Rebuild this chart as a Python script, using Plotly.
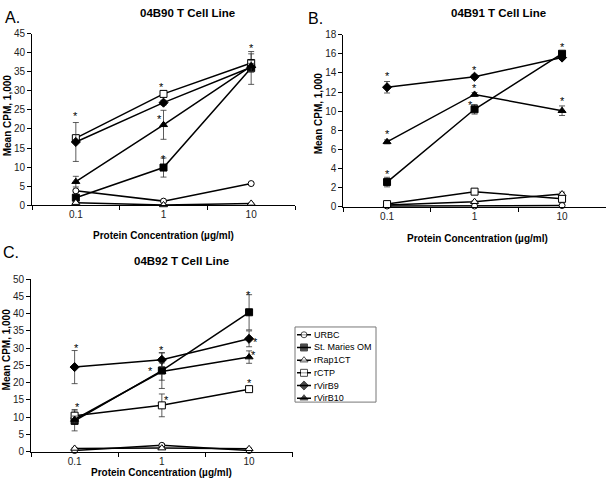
import plotly.graph_objects as go

# ---------------- data ----------------
CONC = ["0.1", "1", "10"]
SERIES = ["URBC", "St. Maries OM", "rRap1CT", "rCTP", "rVirB9", "rVirB10"]

# Panel A: 04B90
A_URBC = [3.8, 1.1, 5.7]
A_STM = [2.0, 9.9, 36.0]
A_RAP = [0.7, 0.1, 0.5]
A_CTP = [17.6, 29.2, 37.3]
A_B9 = [16.6, 26.9, 36.2]
A_B10 = [6.2, 21.1, 36.5]
A_URBC_E = [0.3, 0.2, 0.3]
A_STM_E = [0.6, 2.5, 4.3]
A_RAP_E = [0.1, 0.1, 0.1]
A_CTP_E = [0.5, 0.7, 2.4]
A_B9_E = [5.1, 0.6, 1.0]
A_B10_E = [1.4, 3.8, 1.5]

# Panel B: 04B91
B_URBC = [0.1, 0.1, 0.15]
B_STM = [2.6, 10.2, 16.0]
B_RAP = [0.2, 0.55, 1.35]
B_CTP = [0.3, 1.6, 0.85]
B_B9 = [12.5, 13.6, 15.6]
B_B10 = [6.8, 11.75, 10.05]
B_URBC_E = [0.05, 0.05, 0.05]
B_STM_E = [0.5, 0.5, 0.2]
B_RAP_E = [0.05, 0.1, 0.2]
B_CTP_E = [0.1, 0.1, 0.3]
B_B9_E = [0.6, 0.2, 0.2]
B_B10_E = [0.2, 0.2, 0.5]

# Panel C: 04B92
C_URBC = [0.3, 1.8, 0.3]
C_STM = [8.9, 23.5, 40.4]
C_RAP = [0.9, 1.0, 0.8]
C_CTP = [10.4, 13.4, 18.1]
C_B9 = [24.5, 26.6, 32.7]
C_B10 = [9.3, 23.2, 27.4]
C_URBC_E = [0.2, 0.4, 0.2]
C_STM_E = [2.9, 5.2, 5.1]
C_RAP_E = [0.2, 0.2, 0.2]
C_CTP_E = [1.8, 3.3, 0.8]
C_B9_E = [4.8, 2.0, 2.3]
C_B10_E = [1.0, 2.5, 1.8]

Y_TICKS_A = [0, 5, 10, 15, 20, 25, 30, 35, 40, 45]
Y_TICKS_B = [0, 2, 4, 6, 8, 10, 12, 14, 16, 18]
Y_TICKS_C = [0, 5, 10, 15, 20, 25, 30, 35, 40, 45, 50]

# significance marks: (series, concentration index, dx px, dy px from point)
SIG_A = [("rVirB9", 0, 0, 29), ("rCTP", 1, -2, 10), ("rVirB10", 1, -4, 9),
         ("St. Maries OM", 1, 0, 12), ("St. Maries OM", 2, 0, 23)]
SIG_B = [("rVirB9", 0, 0, 14), ("rVirB10", 0, 0, 11), ("St. Maries OM", 0, 0, 11),
         ("rVirB9", 1, 0, 10), ("rVirB10", 1, 0, 9), ("St. Maries OM", 1, -4, 7),
         ("St. Maries OM", 2, 0, 10), ("rVirB10", 2, 0, 13)]
SIG_C = [("rVirB9", 0, 2, 22), ("rCTP", 0, 3, 12), ("rVirB9", 1, 0, 13),
         ("St. Maries OM", 1, -11, 3), ("rCTP", 1, 5, 8), ("St. Maries OM", 2, -1, 20),
         ("rVirB9", 2, 6, 0), ("rVirB10", 2, 4, 5), ("rCTP", 2, 0, 9)]

# ---------------- styles ----------------
STYLE = {
    "URBC": dict(symbol="circle", size=6, color="white"),
    "St. Maries OM": dict(symbol="square", size=7, color="black"),
    "rRap1CT": dict(symbol="triangle-up", size=7, color="white"),
    "rCTP": dict(symbol="square", size=7, color="white"),
    "rVirB9": dict(symbol="diamond", size=7, color="black"),
    "rVirB10": dict(symbol="triangle-up", size=7, color="black"),
}
FONT = "Liberation Sans, Arial, sans-serif"

panels = [
    ("x", "y", [A_URBC, A_STM, A_RAP, A_CTP, A_B9, A_B10],
     [A_URBC_E, A_STM_E, A_RAP_E, A_CTP_E, A_B9_E, A_B10_E], SIG_A),
    ("x2", "y2", [B_URBC, B_STM, B_RAP, B_CTP, B_B9, B_B10],
     [B_URBC_E, B_STM_E, B_RAP_E, B_CTP_E, B_B9_E, B_B10_E], SIG_B),
    ("x3", "y3", [C_URBC, C_STM, C_RAP, C_CTP, C_B9, C_B10],
     [C_URBC_E, C_STM_E, C_RAP_E, C_CTP_E, C_B9_E, C_B10_E], SIG_C),
]

W, H = 608, 492
def px(x):
    return x / W
def py(y):
    return 1 - y / H

fig = go.Figure()
annotations = []
for pi, (xa, ya, vals, errs, sigs) in enumerate(panels):
    lookup = {}
    for name, v, e in zip(SERIES, vals, errs):
        lookup[name] = v
        st = STYLE[name]
        fig.add_trace(go.Scatter(
            x=CONC, y=v, name=name, xaxis=xa, yaxis=ya,
            mode="lines+markers", cliponaxis=False, showlegend=False,
            line=dict(color="black", width=1.5),
            marker=dict(symbol=st["symbol"], size=st["size"], color=st["color"],
                        line=dict(color="black", width=1)),
            error_y=dict(type="data", array=e, visible=True, color="#333333",
                         thickness=0.8, width=3),
        ))
    for name, idx, dx, dy in sigs:
        annotations.append(dict(
            x=idx, y=lookup[name][idx], xref=xa, yref=ya,
            text="*", showarrow=False, xshift=dx, yshift=dy - 3,
            font=dict(family=FONT, size=11, color="black"),
        ))

# ---------------- legend (drawn on a blank helper axis) ----------------
for i, name in enumerate(SERIES):
    st = STYLE[name]
    fig.add_trace(go.Scatter(
        x=[0, 0.5, 1], y=[i, i, i], xaxis="x4", yaxis="y4", mode="lines+markers",
        showlegend=False, cliponaxis=False, hoverinfo="skip",
        line=dict(color="black", width=1.5),
        marker=dict(symbol=st["symbol"], size=[0, st["size"], 0], color=st["color"],
                    line=dict(color="black", width=1)),
    ))
    annotations.append(dict(
        x=px(312), y=i, xref="paper", yref="y4", text=name, showarrow=False,
        xanchor="left", yanchor="middle",
        font=dict(family=FONT, size=9, color="black"),
    ))

def xaxis(domain, anchor):
    return dict(domain=domain, anchor=anchor, type="category", tickson="boundaries",
                range=[-0.5, 2.5], showline=True, linecolor="black", linewidth=1,
                ticks="outside", ticklen=4, tickcolor="black", showgrid=False,
                tickfont=dict(family=FONT, size=10, color="#222222"), zeroline=False)

def yaxis(domain, anchor, rng, tv):
    return dict(domain=domain, anchor=anchor, range=rng, tickvals=tv,
                showline=True, linecolor="black", linewidth=1,
                ticks="outside", ticklen=4, tickcolor="black", showgrid=False,
                zeroline=False, tickfont=dict(family=FONT, size=10, color="#222222"))

blank = dict(showgrid=False, zeroline=False, showline=False, ticks="",
             showticklabels=False, fixedrange=True)

layout = dict(
    width=W, height=H, margin=dict(l=0, r=0, t=0, b=0),
    paper_bgcolor="white", plot_bgcolor="white", showlegend=False,
    xaxis=xaxis([px(32), px(295)], "y"),
    yaxis=yaxis([py(204.3), py(28.3)], "x", [0, 45], Y_TICKS_A),
    xaxis2=xaxis([px(343.3), px(605.8)], "y2"),
    yaxis2=yaxis([py(206), py(29.3)], "x2", [0, 18], Y_TICKS_B),
    xaxis3=xaxis([px(31), px(292.7)], "y3"),
    yaxis3=yaxis([py(456.7), py(280)], "x3", [0, 50], Y_TICKS_C),
    xaxis4=dict(domain=[px(297), px(311)], anchor="y4", range=[0, 1], **blank),
    yaxis4=dict(domain=[py(408.5), py(330.5)], anchor="x4", range=[5.5, -0.5], **blank),
    shapes=[dict(type="rect", xref="paper", yref="paper",
                 x0=px(295), x1=px(376), y0=py(406), y1=py(329),
                 line=dict(color="#777777", width=1), fillcolor="rgba(0,0,0,0)")],
)

def text_ann(x, y, text, size, bold=False, angle=0):
    t = f"<b>{text}</b>" if bold else text
    return dict(x=px(x), y=py(y), xref="paper", yref="paper", text=t, showarrow=False,
                textangle=angle, xanchor="center", yanchor="middle",
                font=dict(family=FONT, size=size, color="black"))

annotations += [
    text_ann(187, 7, "04B90 T Cell Line", 11.5, True),
    text_ann(498, 7, "04B91 T Cell Line", 11.5, True),
    text_ann(181, 261, "04B92 T Cell Line", 11.5, True),
    text_ann(12, 12, "A.", 16),
    text_ann(315, 13, "B.", 16),
    text_ann(11, 253, "C.", 16),
    text_ann(163, 235, "Protein Concentration (µg/ml)", 10, True),
    text_ann(477, 238, "Protein Concentration (µg/ml)", 10, True),
    text_ann(161, 478, "Protein Concentration (µg/ml)", 10, True),
    text_ann(7, 112, "Mean CPM, 1,000", 10, True, -90),
    text_ann(318, 110, "Mean CPM, 1,000", 10, True, -90),
    text_ann(6, 352, "Mean CPM, 1,000", 10, True, -90),
]
layout["annotations"] = annotations
fig.update_layout(**layout)
fig.write_html("out.html", config={"displayModeBar": False},
               post_script="document.body.style.margin='0';")
